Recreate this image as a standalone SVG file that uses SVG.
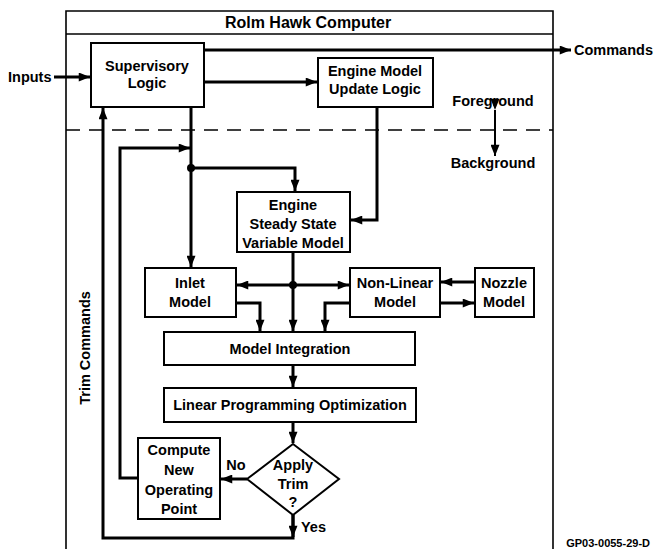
<svg xmlns="http://www.w3.org/2000/svg" width="655" height="549" viewBox="0 0 655 549">
  <style>
    .box { fill: #fff; stroke: #000; stroke-width: 2; }
    .frame { fill: none; stroke: #000; stroke-width: 1.6; }
    .wire { fill: none; stroke: #000; stroke-width: 3; stroke-linejoin: miter; }
    .dash { fill: none; stroke: #000; stroke-width: 1.6; stroke-dasharray: 14 9; }
    text { font-family: "Liberation Sans", Arial, sans-serif; font-size: 14.5px; font-weight: bold; fill: #000; }
    .c { text-anchor: middle; }
    .title { font-size: 16px; }
    .tag { font-size: 11px; }
  </style>
  <defs>
    <marker id="arrow" viewBox="0 0 10 8" refX="10" refY="4" markerWidth="12" markerHeight="9" markerUnits="userSpaceOnUse" orient="auto">
      <path d="M0,0 L10,4 L0,8 Z" fill="#000"/>
    </marker>
  </defs>
  <rect width="655" height="549" fill="#fff"/>

  <!-- computer enclosure with title bar, open at the bottom -->
  <g id="computer">
    <path class="frame" d="M66,560 V11 H553 V560"/>
    <line class="frame" x1="66" y1="34" x2="553" y2="34"/>
    <text class="title c" x="308" y="28">Rolm Hawk Computer</text>
    <line class="dash" x1="66" y1="130" x2="553" y2="130"/>
    <text x="493" y="106" class="c">Foreground</text>
    <text x="493" y="168" class="c">Background</text>
    <text transform="translate(90,348) rotate(-90)" class="c">Trim Commands</text>
    <text class="tag" x="650" y="547" text-anchor="end">GP03-0055-29-D</text>
  </g>

  <!-- connectors -->
  <g id="connectors">
    <line class="wire" x1="54" y1="77" x2="90" y2="77" marker-end="url(#arrow)"/>
    <line class="wire" x1="204" y1="50" x2="571" y2="50" marker-end="url(#arrow)"/>
    <line class="wire" x1="204" y1="82" x2="317" y2="82" marker-end="url(#arrow)"/>
    <line x1="495" y1="110" x2="495" y2="156" stroke="#000" stroke-width="2" marker-start="url(#arrow)" marker-end="url(#arrow)"/>
    <polyline class="wire" points="377,107 377,220 351,220" marker-end="url(#arrow)"/>
    <line class="wire" x1="191" y1="107" x2="191" y2="267" marker-end="url(#arrow)"/>
    <polyline class="wire" points="191,168 295,168 295,191" marker-end="url(#arrow)"/>
    <circle cx="191" cy="168" r="4" fill="#000"/>
    <polyline class="wire" points="138,478 120,478 120,148 190,148" marker-end="url(#arrow)"/>
    <polyline class="wire" points="293,515 293,538 103,538 103,108" marker-end="url(#arrow)"/>
    <line class="wire" x1="293" y1="515" x2="293" y2="537" marker-end="url(#arrow)"/>
    <line class="wire" x1="293" y1="252" x2="293" y2="331" marker-end="url(#arrow)"/>
    <circle cx="293" cy="285" r="4" fill="#000"/>
    <line class="wire" x1="293" y1="285" x2="237" y2="285" marker-end="url(#arrow)"/>
    <line class="wire" x1="293" y1="285" x2="349" y2="285" marker-end="url(#arrow)"/>
    <polyline class="wire" points="236,303 260,303 260,331" marker-end="url(#arrow)"/>
    <polyline class="wire" points="350,303 325,303 325,331" marker-end="url(#arrow)"/>
    <line class="wire" x1="475" y1="282" x2="441" y2="282" marker-end="url(#arrow)"/>
    <line class="wire" x1="440" y1="303" x2="474" y2="303" marker-end="url(#arrow)"/>
    <line class="wire" x1="293" y1="365" x2="293" y2="387" marker-end="url(#arrow)"/>
    <line class="wire" x1="293" y1="422" x2="293" y2="443" marker-end="url(#arrow)"/>
    <line class="wire" x1="247" y1="479" x2="221" y2="479" marker-end="url(#arrow)"/>
    <text x="236" y="470" class="c">No</text>
    <text x="301" y="532">Yes</text>
    <text x="8" y="82">Inputs</text>
    <text x="574" y="55">Commands</text>
  </g>

  <g id="supervisory-logic">
    <rect class="box" x="91" y="43" width="113" height="64"/>
    <text class="c" x="147" y="71">Supervisory</text>
    <text class="c" x="147" y="88">Logic</text>
  </g>

  <g id="engine-model-update">
    <rect class="box" x="318" y="58" width="115" height="49"/>
    <text class="c" x="375" y="76">Engine Model</text>
    <text class="c" x="375" y="94">Update Logic</text>
  </g>

  <g id="steady-state-model">
    <rect class="box" x="237" y="192" width="113" height="60"/>
    <text class="c" x="293" y="210">Engine</text>
    <text class="c" x="293" y="229">Steady State</text>
    <text class="c" x="293" y="248">Variable Model</text>
  </g>

  <g id="inlet-model">
    <rect class="box" x="145" y="268" width="91" height="49"/>
    <text class="c" x="190" y="288">Inlet</text>
    <text class="c" x="190" y="307">Model</text>
  </g>

  <g id="non-linear-model">
    <rect class="box" x="350" y="268" width="90" height="49"/>
    <text class="c" x="395" y="288">Non-Linear</text>
    <text class="c" x="395" y="307">Model</text>
  </g>

  <g id="nozzle-model">
    <rect class="box" x="475" y="268" width="59" height="49"/>
    <text class="c" x="504" y="288">Nozzle</text>
    <text class="c" x="504" y="307">Model</text>
  </g>

  <g id="model-integration">
    <rect class="box" x="164" y="332" width="251" height="33"/>
    <text class="c" x="290" y="354">Model Integration</text>
  </g>

  <g id="lp-optimization">
    <rect class="box" x="164" y="388" width="252" height="34"/>
    <text class="c" x="290" y="410">Linear Programming Optimization</text>
  </g>

  <g id="apply-trim">
    <polygon class="box" points="293,444 339,479 293,515 247,479"/>
    <text class="c" x="293" y="470">Apply</text>
    <text class="c" x="293" y="489">Trim</text>
    <text class="c" x="293" y="507">?</text>
  </g>

  <g id="compute-operating-point">
    <rect class="box" x="138" y="438" width="82" height="81"/>
    <text class="c" x="179" y="455">Compute</text>
    <text class="c" x="179" y="475">New</text>
    <text class="c" x="179" y="495">Operating</text>
    <text class="c" x="179" y="514">Point</text>
  </g>
</svg>
